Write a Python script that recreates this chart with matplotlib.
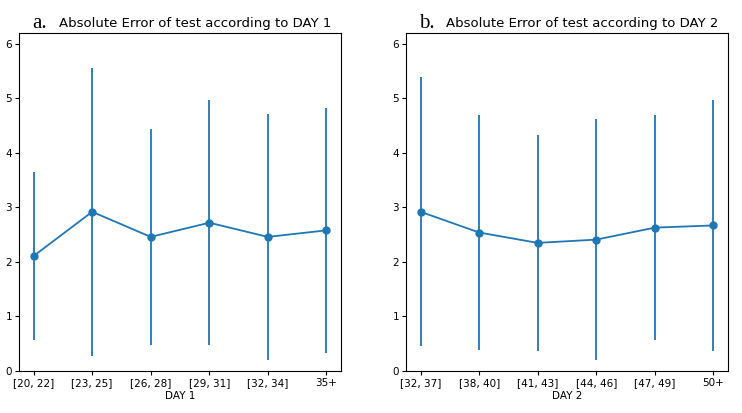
import matplotlib
matplotlib.use("Agg")
import matplotlib.pyplot as plt

day1_labels = ["[20, 22]", "[23, 25]", "[26, 28]", "[29, 31]", "[32, 34]", "35+"]
day1_mean = [2.11, 2.92, 2.46, 2.72, 2.46, 2.58]
day1_std = [1.54, 2.64, 1.98, 2.25, 2.26, 2.25]

day2_labels = ["[32, 37]", "[38, 40]", "[41, 43]", "[44, 46]", "[47, 49]", "50+"]
day2_mean = [2.92, 2.54, 2.35, 2.41, 2.63, 2.67]
day2_std = [2.47, 2.15, 1.98, 2.21, 2.06, 2.30]

W, H = 742, 413
fig = plt.figure(figsize=(W / 100, H / 100), dpi=100)

panels = [
    (19, "a.", "Absolute Error of test according to DAY 1", "DAY 1", day1_labels, day1_mean, day1_std),
    (406, "b.", "Absolute Error of test according to DAY 2", "DAY 2", day2_labels, day2_mean, day2_std),
]

color = "#1f77b4"
for left, letter, title, xlabel, labels, mean, std in panels:
    ax = fig.add_axes([left / W, (H - 371) / H, 322 / W, 338 / H])
    x = list(range(len(labels)))
    ax.errorbar(x, mean, yerr=std, fmt="-o", color=color, markersize=5, linewidth=1.3, elinewidth=1.3)
    ax.set_xlim(-0.25, len(labels) - 0.75)
    ax.set_ylim(0, 6.2)
    ax.set_xticks(x)
    ax.set_xticklabels(labels)
    ax.set_yticks([0, 1, 2, 3, 4, 5, 6])
    ax.tick_params(labelsize=7.5, length=3, pad=2)
    ax.set_xlabel(xlabel, fontsize=7.5, labelpad=2.5)
    for s in ax.spines.values():
        s.set_linewidth(0.8)
    ax.text(13 / 322, 1 + 5 / 338, letter, transform=ax.transAxes, fontsize=15,
            family="Liberation Serif", ha="left", va="baseline")
    ax.text(40 / 322, 1 + 6 / 338, title, transform=ax.transAxes, fontsize=9.5,
            family="DejaVu Sans", ha="left", va="baseline")

fig.savefig("out.png", dpi=100)
